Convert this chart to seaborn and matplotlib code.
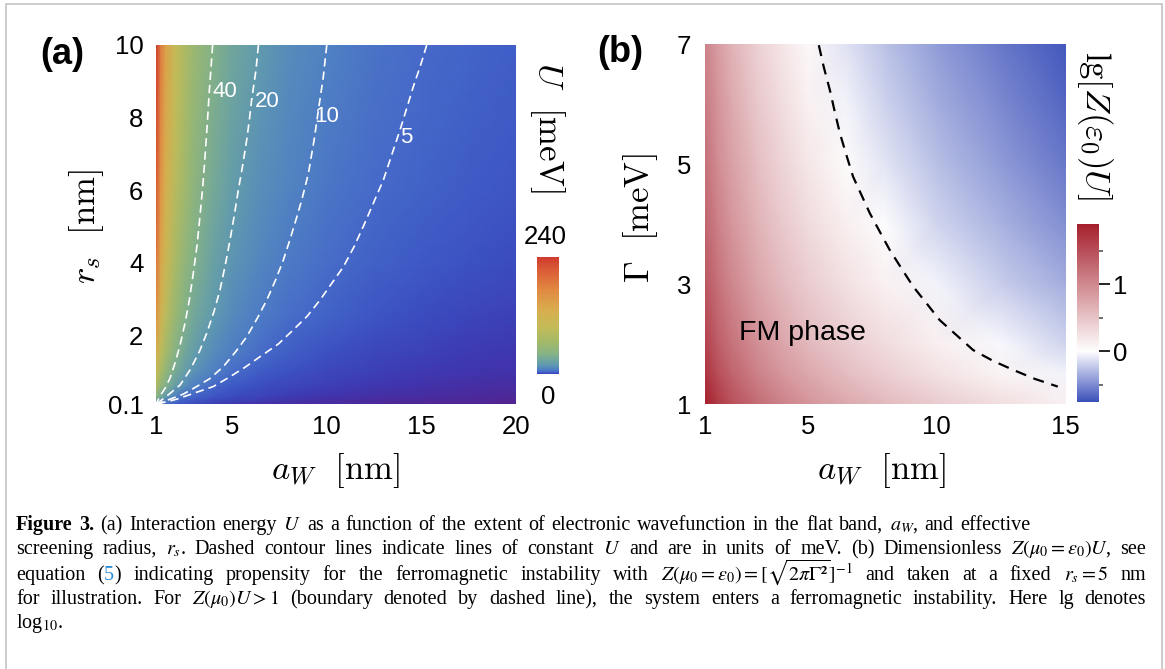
import matplotlib
matplotlib.use("Agg")
import matplotlib.pyplot as plt
from matplotlib.colors import LinearSegmentedColormap, Normalize
from matplotlib.patches import Rectangle
import seaborn as sns

# ---- panel (a): interaction energy U [meV] ----
aw_nodes = [1, 1.25, 1.5, 2, 2.5, 3, 4, 5, 6.5, 8, 10, 12.5, 15, 17.5, 20]
rs_nodes = [0.1, 0.3, 0.6, 1, 1.5, 2.5, 4, 6, 8, 10]
U_grid = [
    [11.5, 7.5, 5.2, 3.0, 1.9, 1.27, 0.70, 0.44, 0.26, 0.16, 0.10, 0.064, 0.045, 0.033, 0.025],
    [46, 30, 19, 9.5, 5.6, 3.8, 2.2, 1.4, 0.85, 0.55, 0.34, 0.22, 0.15, 0.11, 0.08],
    [76, 52, 39, 23, 14.8, 9.7, 4.75, 2.8, 1.6, 1.1, 0.71, 0.46, 0.31, 0.23, 0.17],
    [100, 71, 53, 33.5, 23, 16.7, 9.8, 5.8, 3.0, 1.9, 1.15, 0.75, 0.52, 0.39, 0.30],
    [127, 89, 67, 43, 30, 22, 13.8, 9.2, 5.5, 3.3, 1.9, 1.1, 0.77, 0.57, 0.44],
    [160, 116, 89, 57, 40, 30, 19.5, 13.4, 8.6, 5.9, 3.9, 2.3, 1.5, 1.0, 0.75],
    [190, 139, 109, 72.5, 52, 39, 25, 17.8, 11.8, 8.4, 5.8, 3.8, 2.7, 2.0, 1.45],
    [215, 160, 127, 85, 63, 48, 32, 22, 14.8, 10.8, 7.6, 5.2, 3.9, 2.9, 2.3],
    [230, 174, 138, 95, 70, 54, 36, 26, 17.4, 12.5, 8.9, 6.3, 4.7, 3.6, 2.9],
    [240, 184, 147, 101.5, 76, 59, 40, 29, 19.8, 14.2, 10, 7.1, 5.3, 4.2, 3.35],
]

# dashed lines of constant U (a_W, r_s)
c40_aw = [3.99, 3.91, 3.82, 3.71, 3.59, 3.47, 3.32, 3.17, 2.97, 2.76, 2.53, 2.27, 2.00,
          1.74, 1.48, 1.21, 1.0]
c40_rs = [10.0, 9.40, 8.76, 7.84, 6.92, 6.10, 5.27, 4.49, 3.71, 2.97, 2.33, 1.73, 1.23,
          0.82, 0.54, 0.33, 0.1]
c20_aw = [6.41, 6.28, 6.05, 5.93, 5.79, 5.58, 5.35, 5.14, 4.91, 4.66, 4.38, 4.06, 3.68,
          3.29, 2.80, 2.27, 1.74, 1.30, 1.0]
c20_rs = [10.0, 9.31, 8.48, 7.93, 7.38, 6.69, 6.01, 5.32, 4.63, 3.94, 3.25, 2.65, 2.06,
          1.55, 1.05, 0.63, 0.40, 0.22, 0.1]
c10_aw = [10.02, 9.84, 9.58, 9.35, 9.05, 8.70, 8.34, 8.04, 7.73, 7.32, 6.85, 6.35, 5.79,
          5.21, 4.56, 3.85, 3.15, 2.44, 1.74, 1.0]
c10_rs = [10.0, 9.13, 8.21, 7.38, 6.46, 5.73, 5.09, 4.58, 4.08, 3.53, 2.97, 2.47, 1.96,
          1.55, 1.14, 0.81, 0.59, 0.38, 0.24, 0.1]
c5_aw = [15.30, 14.98, 14.59, 14.24, 13.89, 13.45, 13.01, 12.48, 11.95, 11.46, 10.90, 10.28,
         9.66, 8.99, 8.25, 7.46, 6.49, 5.70, 4.91, 4.03, 2.97, 2.09, 1.39, 1.0]
c5_rs = [10.0, 9.45, 8.85, 8.25, 7.66, 6.97, 6.28, 5.64, 5.00, 4.44, 3.89, 3.43,
         2.97, 2.53, 2.15, 1.76, 1.41, 1.12, 0.86, 0.59, 0.40, 0.24, 0.15, 0.1]
contour_levels = ["40", "20", "10", "5"]
label_aw = [4.64, 6.86, 10.03, 14.2]
label_rs = [8.71, 8.43, 8.04, 7.46]

# ---- panel (b): lg[Z(eps0) U] at r_s = 5 nm ----
aw_b = [1, 1.5, 2, 3, 4, 5, 6.5, 8, 10, 12.5, 15]
gamma_b = [1, 1.5, 2, 3, 4, 5, 6, 7]
lgZU = [
    [1.91, 1.67, 1.50, 1.25, 1.06, 0.90, 0.73, 0.59, 0.43, 0.27, 0.12],
    [1.73, 1.50, 1.33, 1.07, 0.88, 0.73, 0.55, 0.41, 0.25, 0.09, -0.05],
    [1.61, 1.37, 1.20, 0.95, 0.76, 0.60, 0.43, 0.29, 0.13, -0.03, -0.18],
    [1.43, 1.20, 1.03, 0.77, 0.58, 0.43, 0.25, 0.11, -0.05, -0.21, -0.35],
    [1.31, 1.07, 0.90, 0.65, 0.45, 0.30, 0.13, -0.01, -0.18, -0.33, -0.48],
    [1.21, 0.97, 0.81, 0.55, 0.36, 0.20, 0.03, -0.11, -0.27, -0.43, -0.58],
    [1.13, 0.90, 0.73, 0.47, 0.28, 0.12, -0.05, -0.19, -0.35, -0.51, -0.66],
    [1.06, 0.83, 0.66, 0.40, 0.21, 0.06, -0.12, -0.26, -0.42, -0.58, -0.72],
]
# Z(mu0)U = 1 boundary
fm_aw = [5.42, 5.61, 5.85, 6.04, 6.24, 6.49, 6.75, 7.08, 7.40, 7.79, 8.17, 8.63, 9.08,
         9.60, 10.11, 10.76, 11.41, 12.18, 12.96, 13.80, 14.70]
fm_gamma = [6.98, 6.62, 6.23, 5.87, 5.51, 5.15, 4.79, 4.48, 4.18, 3.87, 3.57, 3.26, 2.96,
            2.68, 2.40, 2.15, 1.90, 1.72, 1.57, 1.42, 1.29]

caption = [
    [("Figure 3.", {"fontweight": "bold"}),
     (" (a) Interaction energy $U$ as a function of the extent of electronic wavefunction "
      "in the flat band, $a_W$, and effective", {})],
    [("screening radius, $r_s$. Dashed contour lines indicate lines of constant $U$ and are in "
      r"units of meV. (b) Dimensionless $Z(\mu_0=\varepsilon_0)U$, see", {})],
    [("equation (", {}), ("5", {"color": "#2b8bd2"}),
     (r") indicating propensity for the ferromagnetic instability with "
      r"$Z(\mu_0=\varepsilon_0)=[\sqrt{2\pi\Gamma²}]^{-1}$ and taken at a fixed $r_s=5$ nm", {})],
    [(r"for illustration. For $Z(\mu_0)U>1$ (boundary denoted by dashed line), the system enters "
      "a ferromagnetic instability. Here lg denotes", {})],
    [(r"log$_{10}$.", {})],
]
caption_right = [1030, 1146, 1146, 1146, None]

# ---- styling ----
sns.set_theme(style="ticks")
plt.rcParams["font.family"] = ["Liberation Sans", "DejaVu Sans"]
plt.rcParams["mathtext.fontset"] = "cm"
plt.rcParams["text.color"] = "black"

W, H = 1165, 669
fig = plt.figure(figsize=(W / 100, H / 100), dpi=100)
fig.patch.set_facecolor("white")

rainbow_stops = [(0, "#55238f"), (0.1, "#4a2b9e"), (0.35, "#4034ad"), (0.8, "#3c42b8"),
                 (1.6, "#3b4ec0"), (3, "#3f5cc6"), (5, "#4669c9"), (10, "#5082c3"),
                 (20, "#619bae"), (40, "#84b287"), (65, "#a3b96a"), (95, "#c2bb58"),
                 (130, "#d8ae4e"), (170, "#e18c43"), (210, "#db5f37"), (240, "#cf3a2e")]
cmap_a = LinearSegmentedColormap.from_list(
    "rainbow_u", [(u / 240, c) for u, c in rainbow_stops], N=8192)

vmin_b, vmax_b = -0.76, 1.9
pal_b = sns.blend_palette(["#3a4fb9", "#ffffff", "#a51f2c"], n_colors=3)
cmap_b = LinearSegmentedColormap.from_list(
    "bwr_lg", [(0, pal_b[0]), (-vmin_b / (vmax_b - vmin_b), pal_b[1]), (1, pal_b[2])], N=1024)


def px_box(x0, y0, x1, y1):
    return [x0 / W, 1 - y1 / H, (x1 - x0) / W, (y1 - y0) / H]


tick_fs = 18.5
lab_fs = 25

# ---------------- panel (a) ----------------
ax_a = fig.add_axes(px_box(156, 45, 515.7, 404.3))
mesh_a = ax_a.pcolormesh(aw_nodes, rs_nodes, U_grid, shading="gouraud",
                         cmap=cmap_a, norm=Normalize(0, 240), rasterized=True)
for xs, ys in [(c40_aw, c40_rs), (c20_aw, c20_rs), (c10_aw, c10_rs), (c5_aw, c5_rs)]:
    sns.lineplot(x=xs, y=ys, ax=ax_a, color="white", lw=1.2, sort=False,
                 estimator=None, linestyle=(0, (5, 3)))
for lab, xa, ya in zip(contour_levels, label_aw, label_rs):
    ax_a.text(xa, ya, lab, color="white", fontsize=16, ha="center", va="center")
ax_a.set_xlim(1, 20)
ax_a.set_ylim(0.1, 10)
ax_a.set_xticks([1, 5, 10, 15, 20])
ax_a.set_xticklabels(["1", "5", "10", "15", "20"])
ax_a.set_yticks([0.1, 2, 4, 6, 8, 10])
ax_a.set_yticklabels(["0.1", "2", "4", "6", "8", "10"])
ax_a.tick_params(axis="x", direction="in", length=8, width=1.2, color="white",
                 pad=8, labelsize=tick_fs, labelcolor="black")
ax_a.tick_params(axis="y", direction="in", length=8, width=1.2, color="black",
                 pad=9, labelsize=tick_fs, labelcolor="black")
for tk in [ax_a.xaxis.get_major_ticks()[0], ax_a.xaxis.get_major_ticks()[-1],
           ax_a.yaxis.get_major_ticks()[0], ax_a.yaxis.get_major_ticks()[-1]]:
    tk.tick1line.set_visible(False)
for sp in ax_a.spines.values():
    sp.set_visible(False)
ax_a.set_xlabel("")
ax_a.set_ylabel("")

cax_a = fig.add_axes(px_box(537, 257, 559, 374))
cb_a = fig.colorbar(mesh_a, cax=cax_a)
cb_a.outline.set_visible(False)
cb_a.set_ticks([])
fig.text(545 / W, 1 - 237 / H, "240", fontsize=tick_fs, ha="center", va="center")
fig.text(548 / W, 1 - 397 / H, "0", fontsize=tick_fs, ha="center", va="center")

fig.text(336 / W, 1 - 470 / H, r"$a_W\ \ [\mathrm{nm}]$", fontsize=lab_fs, ha="center", va="center")
fig.text(87 / W, 1 - 227 / H, r"$r_s\ \ [\mathrm{nm}]$", fontsize=lab_fs, rotation=90,
         ha="center", va="center")
fig.text(548 / W, 1 - 128 / H, r"$U\ \ [\mathrm{meV}]$", fontsize=lab_fs, rotation=-90,
         ha="center", va="center")
fig.text(40 / W, 1 - 55 / H, "(a)", fontsize=26, fontweight="bold", ha="left", va="center")

# ---------------- panel (b) ----------------
ax_b = fig.add_axes(px_box(705, 44, 1065.5, 404))
mesh_b = ax_b.pcolormesh(aw_b, gamma_b, lgZU, shading="gouraud", cmap=cmap_b,
                         norm=Normalize(vmin_b, vmax_b), rasterized=True)
sns.lineplot(x=fm_aw, y=fm_gamma, ax=ax_b, color="black", lw=1.6, sort=False,
             estimator=None, linestyle=(0, (5, 3.5)))
ax_b.text(2.32, 2.18, "FM phase", fontsize=20.5, ha="left", va="center")
ax_b.set_xlim(1, 15)
ax_b.set_ylim(1, 7)
ax_b.set_xticks([1, 5, 10, 15])
ax_b.set_xticklabels(["1", "5", "10", "15"])
ax_b.set_yticks([1, 3, 5, 7])
ax_b.set_yticklabels(["1", "3", "5", "7"])
ax_b.tick_params(axis="x", direction="in", length=8, width=1.2, color="black",
                 pad=8, labelsize=tick_fs, labelcolor="black")
ax_b.tick_params(axis="y", direction="in", length=8, width=1.2, color="black",
                 pad=10, labelsize=tick_fs, labelcolor="black")
xt = ax_b.xaxis.get_major_ticks()
yt = ax_b.yaxis.get_major_ticks()
for tk in [xt[0], xt[-1], yt[0], yt[-1]]:
    tk.tick1line.set_visible(False)
yt[1].tick1line.set_color("white")
for sp in ax_b.spines.values():
    sp.set_visible(False)
ax_b.set_xlabel("")
ax_b.set_ylabel("")

cax_b = fig.add_axes(px_box(1077, 224, 1099, 402))
cb_b = fig.colorbar(mesh_b, cax=cax_b)
cb_b.outline.set_visible(False)
cb_b.set_ticks([0, 1])
cb_b.set_ticklabels(["0", "1"])
cb_b.set_ticks([-0.5, 0.5, 1.5], minor=True)
cax_b.tick_params(which="major", length=8, width=1.2, color="black", pad=2,
                  labelsize=tick_fs, labelcolor="black")
cax_b.tick_params(which="minor", length=3, width=1.2, color="#555555")

fig.text(882 / W, 1 - 470 / H, r"$a_W\ \ [\mathrm{nm}]$", fontsize=lab_fs, ha="center", va="center")
fig.text(640 / W, 1 - 218 / H, r"$\Gamma\ \ [\mathrm{meV}]$", fontsize=lab_fs, rotation=90,
         ha="center", va="center")
fig.text(1095 / W, 1 - 125 / H, r"$\mathrm{lg}[Z(\varepsilon_0)U]$", fontsize=lab_fs,
         rotation=-90, ha="center", va="center")
fig.text(597 / W, 1 - 53 / H, "(b)", fontsize=26, fontweight="bold", ha="left", va="center")

# ---------------- caption (justified word by word) ----------------
rend = fig.canvas.get_renderer()
cap_fs = 14.5
cap_kw = dict(fontsize=cap_fs, family=["Liberation Serif", "DejaVu Serif"],
              math_fontfamily="stix", ha="left", va="baseline")
baselines = [530, 554, 580, 604, 628]


def split_words(segs):
    words, cur = [], []
    for s, kw in segs:
        parts = s.split(" ")
        for i, p in enumerate(parts):
            if i > 0 and cur:
                words.append(cur)
                cur = []
            if p:
                cur.append((p, kw))
    if cur:
        words.append(cur)
    return words


def text_w(s, kw):
    t = fig.text(0, 0, s, **{**cap_kw, **kw})
    w = t.get_window_extent(renderer=rend).width
    t.remove()
    return w


space_w = text_w("a b", {}) - text_w("ab", {})
for segs, yb, right in zip(caption, baselines, caption_right):
    words = split_words(segs)
    widths = [[text_w(p, kw) for p, kw in wd] for wd in words]
    total = sum(sum(w) for w in widths)
    gap = space_w if right is None else (right - 16 - total) / (len(words) - 1)
    x = 16
    for wd, ws in zip(words, widths):
        for (p, kw), w in zip(wd, ws):
            fig.text(x / W, 1 - yb / H, p, **{**cap_kw, **kw})
            x += w
        x += gap

# light frame around the whole figure
fig.add_artist(Rectangle((6 / W, -0.05), (1162 - 6) / W, 1.05 - 4 / H,
                         transform=fig.transFigure, fill=False, ec="#c4c4c4", lw=1.2))

fig.savefig("out.png", dpi=100)
